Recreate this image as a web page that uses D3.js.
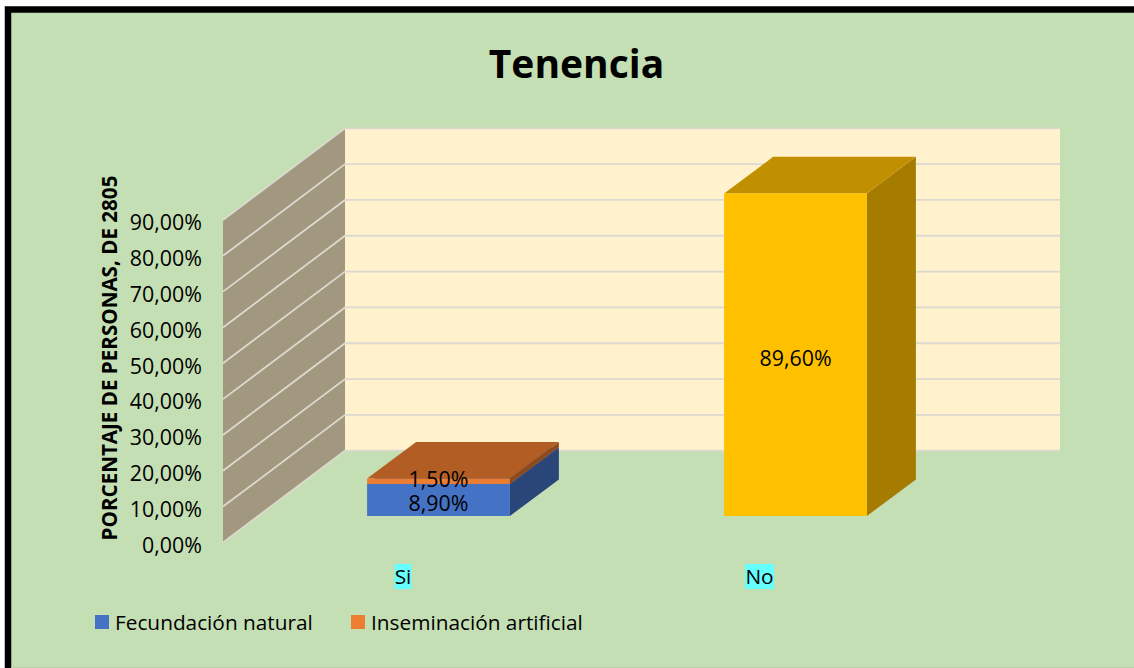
<!DOCTYPE html>
<html><head><meta charset="utf-8">
<script src="https://cdn.jsdelivr.net/npm/d3@7/dist/d3.min.js"></script>
<style>html,body{margin:0;padding:0;background:#fff}svg{display:block}text{font-family:"Open Sans","Noto Sans",sans-serif;fill:#000}</style>
</head><body><svg id="c" width="1134" height="668"></svg>
<script>
const title = "Tenencia";
const yAxisTitle = "PORCENTAJE DE PERSONAS, DE 2805";
const categories = ["Si", "No"];
const seriesNames = ["Fecundación natural", "Inseminación artificial", "No"];
const fecundacion = [8.9, null];
const inseminacion = [1.5, null];
const noTenencia = [null, 89.6];
const valueLabels = ["8,90%", "1,50%", "89,60%"];
const ticks = [0,10,20,30,40,50,60,70,80,90];

const svg = d3.select("#c");
const fmt = v => v.toFixed(2).replace(".", ",") + "%";

// frame
svg.append("rect").attr("x",8).attr("y",9.5).attr("width",1140).attr("height",670)
  .attr("fill","#c5dfb4").attr("stroke","#000").attr("stroke-width",6.5);
svg.append("rect").attr("x",11).attr("y",667).attr("width",1123).attr("height",1).attr("fill","#b7d0a6");

// 3D geometry
const depthWall = {dx:122, dy:-91.7};
const barDepth = {dx:49, dy:-36.6};
const y = d3.scaleLinear().domain([0,90]).range([542.4,220]);   // front edge of the side wall
const h = v => y(0) - y(v);
const barH = d3.scaleLinear().domain([0,90]).range([0,324]);
const x = d3.scaleBand().domain(categories).range([260,974]).paddingInner(0.6).paddingOuter(0.3);
const wallL = 223, backL = wallL + depthWall.dx, backR = 1060;
const gridCol = "#dcd9cf";

// back wall
svg.append("rect").attr("x",backL).attr("y",y(90)+depthWall.dy).attr("width",backR-backL).attr("height",h(90))
  .attr("fill","#fff2cc");
// side wall
svg.append("path").attr("fill","#a2987f").attr("d",d3.line()([
  [wallL,y(0)],[wallL,y(90)],[backL,y(90)+depthWall.dy],[backL,y(0)+depthWall.dy]]));
// grid
const grid = svg.append("g").attr("fill","none").attr("stroke",gridCol).attr("stroke-width",1.8);
ticks.forEach(t=>{
  grid.append("path").attr("d",d3.line()([[wallL,y(t)],[backL,y(t)+depthWall.dy],[backR,y(t)+depthWall.dy]]));
});

// axis labels
svg.append("g").selectAll("text").data(ticks).join("text")
  .attr("x",202).attr("y",d=>y(d)+10.3).attr("text-anchor","end")
  .attr("font-size",21.4).text(fmt);
svg.append("text").attr("transform","translate(116.5,358) rotate(-90)")
  .attr("text-anchor","middle").attr("font-size",20.6).attr("font-weight",700).text(yAxisTitle);

// bars
const base = 516;
function box(cat, v0, v1, front, top, side){
  const xl = x(cat), xr = xl + x.bandwidth();
  const y0 = base - barH(v0), y1 = base - barH(v1);
  const d = barDepth;
  const g = svg.append("g");
  g.append("path").attr("fill",side).attr("d",d3.line()([[xr,y0],[xr,y1],[xr+d.dx,y1+d.dy],[xr+d.dx,y0+d.dy]])+"Z");
  g.append("path").attr("fill",top).attr("d",d3.line()([[xl,y1],[xr,y1],[xr+d.dx,y1+d.dy],[xl+d.dx,y1+d.dy]])+"Z");
  g.append("rect").attr("x",xl).attr("y",y1).attr("width",xr-xl).attr("height",y0-y1).attr("fill",front);
}
box(categories[0],0,fecundacion[0],"#4472c4","#335593","#2a4679");
box(categories[0],fecundacion[0],fecundacion[0]+inseminacion[0],"#ed7d31","#b25d24","#8e4a1d");
box(categories[1],0,noTenencia[1],"#ffc000","#c19000","#a57c00");

// value labels
const cx = c => x(c)+x.bandwidth()/2;
const labels = svg.append("g").attr("text-anchor","middle").attr("font-size",21.4);
labels.append("text").attr("x",cx("Si")).attr("y",511).text(valueLabels[0]);
labels.append("text").attr("x",cx("Si")).attr("y",487).text(valueLabels[1]);
labels.append("text").attr("x",cx("No")).attr("y",366).text(valueLabels[2]);

// category labels with highlight
const catX = {Si:403, No:759.5};
categories.forEach(c=>{
  const w = c==="Si"?17:29;
  svg.append("rect").attr("x",catX[c]-w/2).attr("y",564).attr("width",w).attr("height",25).attr("fill","#66ffff");
  svg.append("text").attr("x",catX[c]).attr("y",584).attr("text-anchor","middle").attr("font-size",20.8).text(c);
});

// title
svg.append("text").attr("x",576.5).attr("y",77.5).attr("text-anchor","middle")
  .attr("font-size",39).attr("font-weight",700).text(title);

// legend
const legend = [[seriesNames[0],"#4472c4",95,115],[seriesNames[1],"#ed7d31",351,371]];
legend.forEach(([n,col,rx,tx])=>{
  svg.append("rect").attr("x",rx).attr("y",615).attr("width",14).attr("height",14).attr("fill",col);
  svg.append("text").attr("x",tx).attr("y",630).attr("font-size",20.8).text(n);
});
</script></body></html>
